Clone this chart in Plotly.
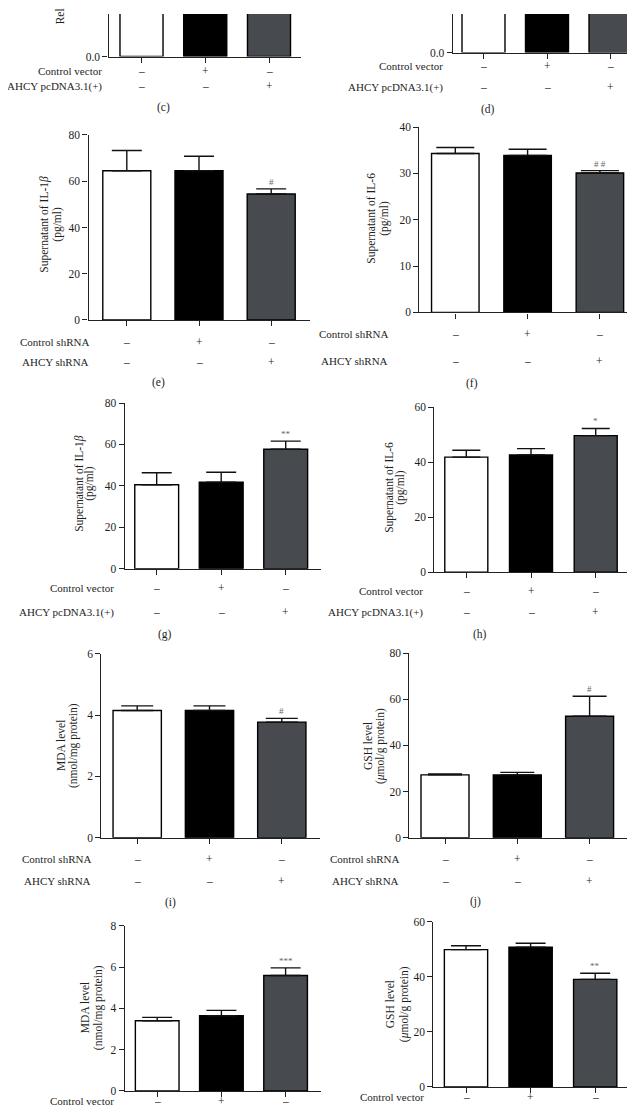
import plotly.graph_objects as go

W, H = 635, 1111
FONT = "Liberation Serif"

# ---------------- data ----------------
groups = ["Blank", "Control", "AHCY"]

c_rel = [1.0, 1.05, 2.4]
c_err = [0.1, 0.1, 0.2]
d_rel = [1.0, 0.98, 2.1]
d_err = [0.1, 0.1, 0.2]

e_il1b = [64.5, 64.5, 54.5]
e_err = [8.8, 6.3, 2.2]
f_il6 = [34.3, 33.9, 30.1]
f_err = [1.3, 1.3, 0.5]
g_il1b = [40.5, 41.8, 57.7]
g_err = [5.8, 4.8, 3.9]
h_il6 = [41.8, 42.6, 49.6]
h_err = [2.5, 2.3, 2.6]
i_mda = [4.15, 4.15, 3.77]
i_err = [0.15, 0.15, 0.12]
j_gsh = [27.2, 27.2, 52.6]
j_err = [0.4, 1.1, 8.7]
k_mda = [3.40, 3.64, 5.59]
k_err = [0.16, 0.26, 0.37]
l_gsh = [49.9, 50.8, 39.1]
l_err = [1.4, 1.4, 2.2]

sig_e = ["", "", "#"]
sig_f = ["", "", "# #"]
sig_g = ["", "", "**"]
sig_h = ["", "", "*"]
sig_i = ["", "", "#"]
sig_j = ["", "", "#"]
sig_k = ["", "", "***"]
sig_l = ["", "", "**"]
sig_none = ["", "", ""]

sh_labels = ["Control shRNA", "AHCY shRNA"]
vec_labels = ["Control vector", "AHCY pcDNA3.1(+)"]
row1_signs = ["–", "+", "–"]
row2_signs = ["–", "–", "+"]

title_il1b = ["Supernatant of IL-1<i>β</i>", "(pg/ml)"]
title_il6 = ["Supernatant of IL-6", "(pg/ml)"]
title_mda = ["MDA level", "(nmol/mg protein)"]
title_gsh = ["GSH level", "(<i>μ</i>mol/g protein)"]
title_rel = ["Relative AHCY expression"]

# ---------------- style ----------------
bar_colors = ["#ffffff", "#000000", "#474a4e"]
AX = "#222222"
TXT = "#1e1e1e"


def X(px):
    return px / W


def Y(py):
    return 1 - py / H


# geometry per panel (pixels)
panels = [
    dict(cap="(c)", capxy=(155, 95), vals=c_rel, errs=c_err, sig=sig_none,
         yx=100.5, base=43, top=0, right=293, c0=133.5, sp=63.75, bw=0.675,
         yr=[0, 0.3], tickvals=[0], ticktext=["0.0"], capw=15,
         labels=vec_labels, rows_y=[58, 73], lab_right=96,
         title=title_rel, title_x=[52], title_y=13, title_partial=True),
    dict(cap="(d)", capxy=(480, 97), vals=d_rel, errs=d_err, sig=sig_none,
         yx=444.7, base=39, top=0, right=635, c0=475.5, sp=63.5, bw=0.677,
         yr=[0, 0.3], tickvals=[0], ticktext=["0.0"], capw=15,
         labels=vec_labels, rows_y=[53, 74], lab_right=437,
         title=None),
    dict(cap="(e)", capxy=(150, 373), vals=e_il1b, errs=e_err, sig=sig_e,
         yx=80.5, base=309.3, top=122.3, right=302, c0=118.8, sp=72.2, bw=0.665,
         yr=[0, 80], tickvals=[0, 20, 40, 60, 80], ticktext=None, capw=15,
         labels=sh_labels, rows_y=[331.7, 351.7], lab_right=83,
         title=title_il1b, title_x=[37, 50], title_y=213),
    dict(cap="(f)", capxy=(464, 374), vals=f_il6, errs=f_err, sig=sig_f,
         yx=411.3, base=301.7, top=114.3, right=628.7, c0=447.3, sp=72.3, bw=0.657,
         yr=[0, 40], tickvals=[0, 10, 20, 30, 40], ticktext=None, capw=19,
         labels=sh_labels, rows_y=[323.3, 350.7], lab_right=382,
         title=title_il6, title_x=[364, 377], title_y=207),
    dict(cap="(g)", capxy=(157, 627), vals=g_il1b, errs=g_err, sig=sig_g,
         yx=116.7, base=560.7, top=393.3, right=313, c0=148.7, sp=64.5, bw=0.68,
         yr=[0, 80], tickvals=[0, 20, 40, 60, 80], ticktext=None, capw=15,
         labels=vec_labels, rows_y=[580, 605], lab_right=108,
         title=title_il1b, title_x=[72, 82], title_y=475),
    dict(cap="(h)", capxy=(472, 627), vals=h_il6, errs=h_err, sig=sig_h,
         yx=426.3, base=564.3, top=397.3, right=620, c0=458.3, sp=64.7, bw=0.665,
         yr=[0, 60], tickvals=[0, 20, 40, 60], ticktext=None, capw=14,
         labels=vec_labels, rows_y=[583.3, 605], lab_right=417,
         title=title_il6, title_x=[382, 393], title_y=479),
    dict(cap="(i)", capxy=(162, 898), vals=i_mda, errs=i_err, sig=sig_i,
         yx=93.3, base=832.7, top=646.7, right=311.7, c0=129.2, sp=72.3, bw=0.668,
         yr=[0, 6], tickvals=[0, 2, 4, 6], ticktext=None, capw=16,
         labels=sh_labels, rows_y=[854.3, 876], lab_right=85,
         title=title_mda, title_x=[53, 65], title_y=740),
    dict(cap="(j)", capxy=(467, 897), vals=j_gsh, errs=j_err, sig=sig_j,
         yx=401.3, base=832.7, top=646, right=618.7, c0=437, sp=72.3, bw=0.664,
         yr=[0, 80], tickvals=[0, 20, 40, 60, 80], ticktext=None, capw=17,
         labels=sh_labels, rows_y=[854.3, 876], lab_right=393,
         title=title_gsh, title_x=[360, 372], title_y=740),
    dict(cap=None, vals=k_mda, errs=k_err, sig=sig_k,
         yx=116.7, base=1088.7, top=921.7, right=313, c0=149.2, sp=64.2, bw=0.68,
         yr=[0, 8], tickvals=[0, 2, 4, 6, 8], ticktext=None, capw=15,
         labels=vec_labels[:1], rows_y=[1099], lab_right=108,
         title=title_mda, title_x=[77, 90], title_y=1005),
    dict(cap=None, vals=l_gsh, errs=l_err, sig=sig_l,
         yx=425.3, base=1084.7, top=917.7, right=618.7, c0=458, sp=64.6, bw=0.67,
         yr=[0, 60], tickvals=[0, 20, 40, 60], ticktext=None, capw=15,
         labels=vec_labels[:1], rows_y=[1095], lab_right=417.7,
         title=title_gsh, title_x=[382, 396], title_y=1001),
]

fig = go.Figure()
annotations = []
layout = {}

for n, p in enumerate(panels, start=1):
    xa = "x" if n == 1 else f"x{n}"
    ya = "y" if n == 1 else f"y{n}"
    xkey = "xaxis" if n == 1 else f"xaxis{n}"
    ykey = "yaxis" if n == 1 else f"yaxis{n}"

    fig.add_trace(go.Bar(
        x=groups, y=p["vals"], xaxis=xa, yaxis=ya, width=p["bw"],
        marker=dict(color=bar_colors, line=dict(color="#000000", width=1.4)),
        error_y=dict(type="data", array=p["errs"], arrayminus=[0, 0, 0],
                     symmetric=False, width=p["capw"], thickness=1.4, color="#111111"),
        showlegend=False, hoverinfo="skip",
    ))

    left = (p["yx"] - p["c0"]) / p["sp"]
    right = (p["right"] - p["c0"]) / p["sp"]
    layout[xkey] = dict(
        domain=[X(p["yx"]), min(1.0, X(p["right"]))], anchor=ya,
        type="category", categoryorder="array", categoryarray=groups,
        range=[left, right], showline=True, linecolor=AX, linewidth=1.2,
        ticks="outside", ticklen=5, tickwidth=1.1, tickcolor=AX,
        showticklabels=False, showgrid=False, zeroline=False, fixedrange=True,
    )
    yd = dict(
        domain=[Y(p["base"]), Y(p["top"])], anchor=xa, range=p["yr"],
        showline=True, linecolor=AX, linewidth=1.2,
        ticks="outside", ticklen=5, tickwidth=1.1, tickcolor=AX,
        tickvals=p["tickvals"], showgrid=False, zeroline=False,
        tickfont=dict(family=FONT, size=11.5, color=TXT), fixedrange=True,
    )
    if p["ticktext"]:
        yd["ticktext"] = p["ticktext"]
    layout[ykey] = yd

    # significance markers
    for g, v, e, s in zip(groups, p["vals"], p["errs"], p["sig"]):
        if s:
            annotations.append(dict(
                x=g, y=v + e, xref=xa, yref=ya, text=s, showarrow=False,
                yanchor="bottom", yshift=0,
                font=dict(family=FONT, size=9, color="#666666")))

    # treatment rows
    signs = [row1_signs, row2_signs]
    for r, (lab, ry) in enumerate(zip(p["labels"], p["rows_y"])):
        annotations.append(dict(
            x=X(p["lab_right"]), y=Y(ry), xref="paper", yref="paper",
            text=lab, showarrow=False, xanchor="right", yanchor="middle",
            font=dict(family=FONT, size=11, color=TXT)))
        for g, s in zip(groups, signs[r]):
            annotations.append(dict(
                x=g, y=Y(ry), xref=xa, yref="paper", text=s, showarrow=False,
                xanchor="center", yanchor="middle",
                font=dict(family=FONT, size=11.5, color=TXT)))

    # y-axis titles (one annotation per line)
    if p["title"]:
        for line, tx in zip(p["title"], p["title_x"]):
            annotations.append(dict(
                x=X(tx), y=Y(p["title_y"]), xref="paper", yref="paper", text=line,
                showarrow=False, textangle=-90, xanchor="center",
                yanchor="bottom" if p.get("title_partial") else "middle",
                font=dict(family=FONT, size=11.5, color=TXT)))

    # captions
    if p["cap"]:
        cx, cy = p["capxy"]
        annotations.append(dict(
            x=X(cx), y=Y(cy), xref="paper", yref="paper", text=p["cap"],
            showarrow=False, xanchor="center", yanchor="middle",
            font=dict(family=FONT, size=11.5, color=TXT)))

fig.update_layout(
    width=W, height=H, margin=dict(l=0, r=0, t=0, b=0),
    paper_bgcolor="white", plot_bgcolor="white", showlegend=False,
    bargap=0.3, annotations=annotations, **layout,
)

fig.write_html("out.html", config={"displayModeBar": False})
